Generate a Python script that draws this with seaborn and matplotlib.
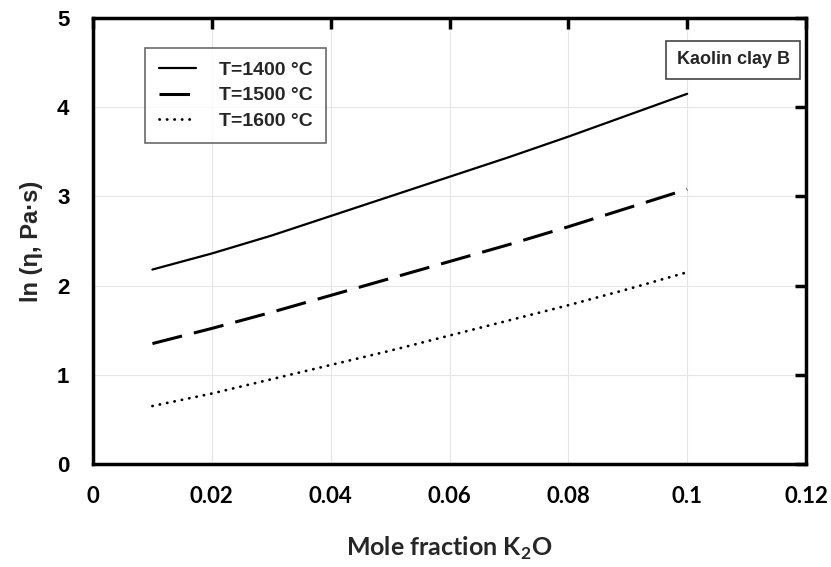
import matplotlib
matplotlib.use("Agg")
import matplotlib.pyplot as plt
import seaborn as sns
import pandas as pd

x_vals = [0.01, 0.02, 0.03, 0.04, 0.05, 0.06, 0.07, 0.08, 0.09, 0.10]
y_1400 = [2.18, 2.36, 2.56, 2.78, 3.00, 3.22, 3.44, 3.67, 3.91, 4.15]
y_1500 = [1.35, 1.52, 1.70, 1.89, 2.08, 2.27, 2.46, 2.66, 2.87, 3.08]
y_1600 = [0.65, 0.79, 0.95, 1.11, 1.27, 1.44, 1.61, 1.78, 1.96, 2.15]
labels = ["T=1400 °C", "T=1500 °C", "T=1600 °C"]
x_ticks = [0, 0.02, 0.04, 0.06, 0.08, 0.1, 0.12]
x_ticklabels = ["0", "0.02", "0.04", "0.06", "0.08", "0.1", "0.12"]
y_ticks = [0, 1, 2, 3, 4, 5]

sns.set_style("white")
plt.rcParams['font.family'] = ['Liberation Sans', 'DejaVu Sans']

df = pd.DataFrame({
    "x": x_vals * 3,
    "y": y_1400 + y_1500 + y_1600,
    "T": [labels[0]] * 10 + [labels[1]] * 10 + [labels[2]] * 10,
})

fig = plt.figure(figsize=(8.31, 5.67), dpi=100)
ax = fig.add_axes([93/831, 1 - 464/567, (806-93)/831, (464-18)/567])

styles = ["-", (0, (10, 4)), (0, (0.1, 2.6))]
widths = [1.6, 2.2, 2.0]
for lab, ls, lw in zip(labels, styles, widths):
    sub = df[df["T"] == lab]
    sns.lineplot(data=sub, x="x", y="y", ax=ax, color="black", linewidth=lw,
                 linestyle=ls, label=lab)
ax.lines[2].set_dash_capstyle("round")

ax.set_xlim(0, 0.12)
ax.set_ylim(0, 5)
ax.set_xticks(x_ticks)
ax.set_xticklabels(x_ticklabels, fontfamily="Lato", fontweight="bold", fontsize=16)
ax.set_yticks(y_ticks)
ax.set_yticklabels([str(v) for v in y_ticks], fontweight="bold", fontsize=16)
ax.grid(True, color="#e6e6e6", linewidth=0.8)
ax.tick_params(direction="in", length=8, width=2.5, top=True, right=True,
               colors="black")
ax.tick_params(axis="y", pad=17)
ax.tick_params(axis="x", pad=16)
for s in ax.spines.values():
    s.set_linewidth(2.5)
    s.set_color("black")

ax.set_xlabel("Mole fraction K$_\\mathregular{2}$O", fontfamily="Lato",
              fontweight="bold", fontsize=18, labelpad=20)
ax.set_ylabel("ln (η, Pa·s)", fontweight="bold", fontsize=17, labelpad=10)

leg = ax.legend(loc="upper left", bbox_to_anchor=(0.073, 0.933), frameon=True,
                fancybox=False, edgecolor="#444444", handlelength=1.9,
                prop={"weight": "bold", "size": 14}, borderpad=0.7,
                labelspacing=0.4, handletextpad=1.2, borderaxespad=0)
leg.get_frame().set_linewidth(1.2)
for h in leg.get_lines():
    if h.get_label() == labels[2]:
        h.set_dash_capstyle("round")

ax.text(0.977, 0.906, "Kaolin clay B", transform=ax.transAxes, ha="right",
        va="center", fontsize=13, fontweight="bold",
        bbox=dict(boxstyle="square,pad=0.6", fc="white", ec="#444444", lw=1.2))

fig.savefig("out.png", dpi=100)
